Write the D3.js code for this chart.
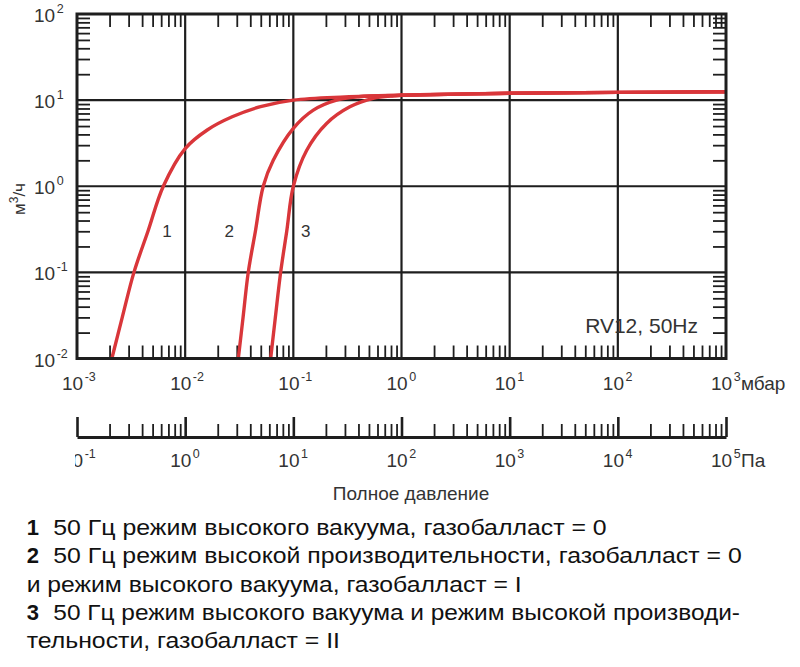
<!DOCTYPE html>
<html>
<head>
<meta charset="utf-8">
<script src="https://cdn.jsdelivr.net/npm/d3@7"></script>
<style>
  body { margin: 0; background: #fff; }
  svg { display: block; font-family: "Liberation Sans", Arial, sans-serif; }
</style>
</head>
<body>
<svg id="chart" width="800" height="667"></svg>
<script>
// pump speed curves, [pressure mbar, speed m3/h]
const curve1 = [[0.0021, 0.01], [0.00262, 0.03], [0.00336, 0.1], [0.00453, 0.3], [0.00628, 1],
    [0.01, 2.74], [0.016, 4.5], [0.0272, 6.4], [0.0497, 8.4], [0.1, 10], [0.3, 10.9],
    [1, 11.4], [10, 12.0], [100, 12.3], [1000, 12.5]]
const curve2 = [[0.031, 0.01], [0.0343, 0.03], [0.0383, 0.1], [0.0446, 0.3], [0.0527, 1],
    [0.0652, 2.0], [0.1, 4.7], [0.153, 7.65], [0.251, 10], [0.4, 10.95],
    [1, 11.4], [10, 12.0], [100, 12.3], [1000, 12.5]]
const curve3 = [[0.0617, 0.01], [0.0682, 0.03], [0.0763, 0.1], [0.0869, 0.3], [0.1, 1],
    [0.133, 2.62], [0.203, 5.36], [0.333, 8.36], [0.547, 10.5], [0.85, 11.25],
    [1, 11.4], [10, 12.0], [100, 12.3], [1000, 12.5]]
const curves = [curve1, curve2, curve3]
const curveNames = ['1', '2', '3']
const curveLabelAt = [[0.0068, 0.3], [0.0256, 0.3], [0.13, 0.3]]

const mbarExp = [-3, -2, -1, 0, 1, 2, 3]
const paExp = [-1, 0, 1, 2, 3, 4, 5]
const speedExp = [-2, -1, 0, 1, 2]

const legendNums = ['1', '2', '', '3', '']
const legendTexts = [
    '50 Гц режим высокого вакуума, газобалласт = 0',
    '50 Гц режим высокой производительности, газобалласт = 0',
    'и режим высокого вакуума, газобалласт = I',
    '50 Гц режим высокого вакуума и режим высокой производи-',
    'тельности, газобалласт = II'
]

const ink = '#1e1e1e'
const svg = d3.select('#chart')

const plotLeft = 77, plotRight = 726, plotTop = 14, plotBottom = 358.5
const x = d3.scaleLog().domain([1e-3, 1e3]).range([plotLeft, plotRight])
const xPa = d3.scaleLog().domain([1e-1, 1e5]).range([plotLeft, plotRight])
const y = d3.scaleLog().domain([1e-2, 1e2]).range([plotBottom, plotTop])

const isMinor = v => Math.abs(Math.log10(v) - Math.round(Math.log10(v))) > 1e-6

// grid
const grid = svg.append('g').attr('stroke', ink).attr('stroke-width', 2.2)
grid.selectAll('.gx').data(mbarExp.slice(1, -1)).join('line')
    .attr('x1', d => x(10 ** d)).attr('x2', d => x(10 ** d))
    .attr('y1', plotTop).attr('y2', plotBottom)
grid.selectAll('.gy').data(speedExp.slice(1, -1)).join('line')
    .attr('y1', d => y(10 ** d)).attr('y2', d => y(10 ** d))
    .attr('x1', plotLeft).attr('x2', plotRight)

// inward minor ticks on all four sides
function styleTicks(g) {
    g.select('.domain').remove()
    g.selectAll('.tick line').attr('stroke', ink).attr('stroke-width', 1.8)
}
const xMinor = x.ticks().filter(isMinor)
const yMinor = y.ticks().filter(isMinor)
svg.append('g').attr('transform', `translate(0,${plotBottom})`)
    .call(d3.axisTop(x).tickValues(xMinor).tickSize(13).tickFormat('')).call(styleTicks)
svg.append('g').attr('transform', `translate(0,${plotTop})`)
    .call(d3.axisBottom(x).tickValues(xMinor).tickSize(13).tickFormat('')).call(styleTicks)
svg.append('g').attr('transform', `translate(${plotLeft},0)`)
    .call(d3.axisRight(y).tickValues(yMinor).tickSize(13).tickFormat('')).call(styleTicks)
svg.append('g').attr('transform', `translate(${plotRight},0)`)
    .call(d3.axisLeft(y).tickValues(yMinor).tickSize(13).tickFormat('')).call(styleTicks)

// curves
svg.append('clipPath').attr('id', 'plotClip')
    .append('rect').attr('x', plotLeft).attr('y', plotTop)
    .attr('width', plotRight - plotLeft).attr('height', plotBottom - plotTop)

const line = d3.line()
    .x(d => x(d[0]))
    .y(d => y(d[1]))
    .curve(d3.curveCatmullRom.alpha(0.5))

svg.append('g').attr('clip-path', 'url(#plotClip)')
    .selectAll('path').data(curves).join('path')
    .attr('d', line)
    .attr('fill', 'none')
    .attr('stroke', '#d9363a')
    .attr('stroke-width', 3.4)
    .attr('stroke-linejoin', 'round')

svg.append('g').selectAll('text').data(curveLabelAt).join('text')
    .attr('x', d => x(d[0])).attr('y', d => y(d[1]) + 6)
    .attr('text-anchor', 'middle')
    .attr('font-size', 17).attr('fill', '#333')
    .text((d, i) => curveNames[i])

// frame
svg.append('rect')
    .attr('x', plotLeft).attr('y', plotTop)
    .attr('width', plotRight - plotLeft).attr('height', plotBottom - plotTop)
    .attr('fill', 'none').attr('stroke', ink).attr('stroke-width', 3)

// power-of-ten labels
function powLabel(g, px, py, e) {
    const t = g.append('text').attr('x', px).attr('y', py)
        .attr('font-size', 19).attr('fill', '#333')
    t.append('tspan').text('10')
    t.append('tspan').attr('dx', 1.5).attr('dy', -9).attr('font-size', 12.5).text(e)
}

const mbarLabels = svg.append('g')
mbarExp.forEach(e => powLabel(mbarLabels, x(10 ** e) - 15, 390, e))
svg.append('text').attr('x', 741).attr('y', 390).attr('font-size', 19).attr('fill', '#333').text('мбар')

const yLabels = svg.append('g')
speedExp.forEach(e => powLabel(yLabels, 34, y(10 ** e) + 8, e))

// pascal axis
const paY = 437
const paMinor = xPa.ticks().filter(isMinor)
const paMajor = paExp.map(e => 10 ** e)
svg.append('g').attr('transform', `translate(0,${paY})`)
    .call(d3.axisTop(xPa).tickValues(paMinor).tickSize(13).tickSizeOuter(0).tickFormat(''))
    .call(g => g.selectAll('.tick line').attr('stroke', ink).attr('stroke-width', 1.8))
    .call(g => g.select('.domain').attr('stroke', ink).attr('stroke-width', 3))
svg.append('g').attr('transform', `translate(0,${paY})`)
    .call(d3.axisTop(xPa).tickValues(paMajor).tickSize(20).tickFormat(''))
    .call(styleTicks)
    .call(g => g.selectAll('.tick line').attr('stroke-width', 2.6))

svg.append('clipPath').attr('id', 'paClip')
    .append('rect').attr('x', 75).attr('y', 440).attr('width', 725).attr('height', 40)
const paLabels = svg.append('g').attr('clip-path', 'url(#paClip)')
paExp.forEach(e => powLabel(paLabels, xPa(10 ** e) - 15, 467, e))
svg.append('text').attr('x', 741).attr('y', 467).attr('font-size', 19).attr('fill', '#333').text('Па')

// axis titles
svg.append('text').attr('x', 411).attr('y', 500).attr('text-anchor', 'middle')
    .attr('font-size', 19).attr('fill', '#333').text('Полное давление')

const yTitle = svg.append('text').attr('transform', 'translate(25,199) rotate(-90)')
    .attr('text-anchor', 'middle').attr('font-size', 17).attr('fill', '#333')
yTitle.append('tspan').text('м')
yTitle.append('tspan').attr('dy', -7).attr('font-size', 12).text('3')
yTitle.append('tspan').attr('dy', 7).text('/ч')

svg.append('text').attr('x', 698).attr('y', 333).attr('text-anchor', 'end')
    .attr('font-size', 21).attr('fill', '#333').text('RV12, 50Hz')

// legend
const legendEnds = [606.7, 741.7, 521.7, 740, 340]
const legend = svg.append('g').attr('fill', '#111').attr('font-size', 22)
    .attr('font-family', '"Liberation Sans Narrow", "Liberation Sans", Arial, sans-serif')
legendTexts.forEach((txt, i) => {
    const by = 535 + i * 28.33
    const num = legendNums[i]
    const tx = num ? 53.3 : 26.7
    if (num) {
        legend.append('text').attr('x', 26.7).attr('y', by).attr('font-weight', 'bold').text(num)
    }
    legend.append('text').attr('x', tx).attr('y', by)
        .attr('textLength', legendEnds[i] - tx).attr('lengthAdjust', 'spacingAndGlyphs')
        .text(txt)
})
</script>
</body>
</html>
